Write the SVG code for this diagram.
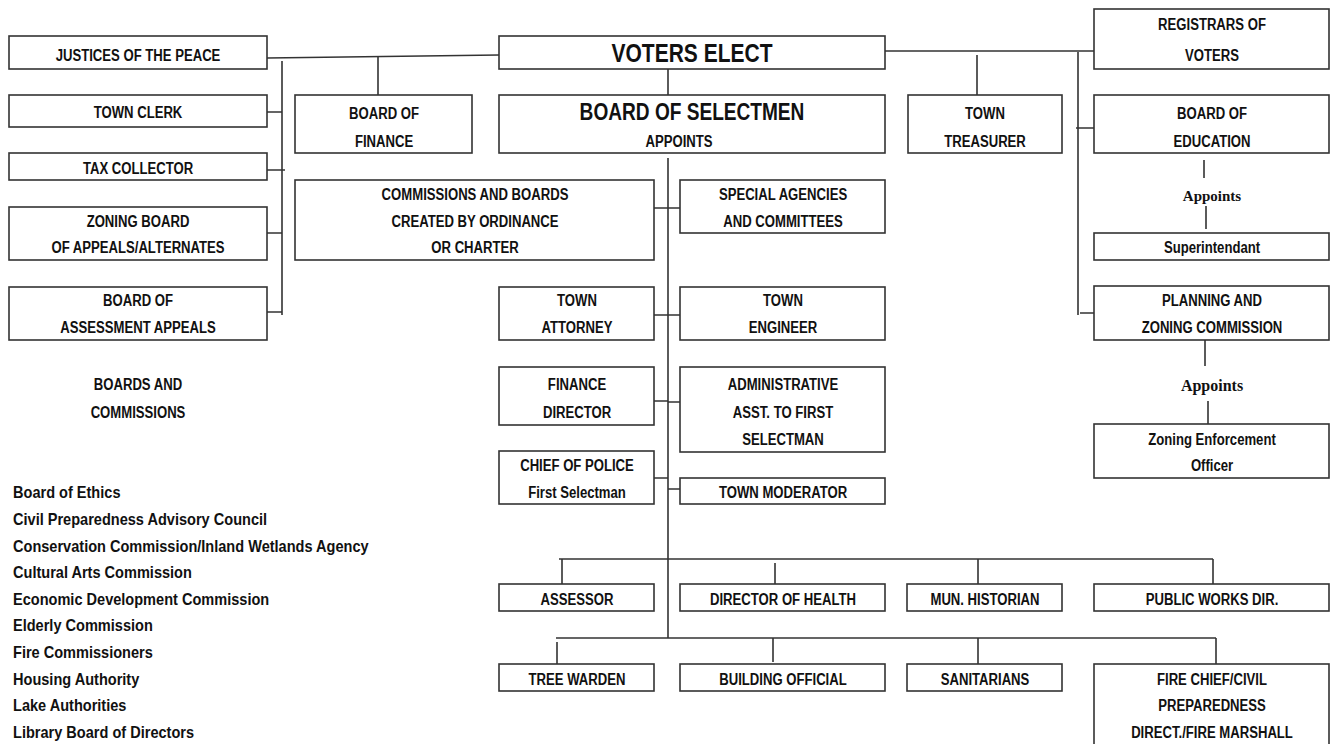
<svg xmlns="http://www.w3.org/2000/svg" width="1330" height="744" viewBox="0 0 1330 744">
<style>
.bx{fill:#fff;stroke:#333;stroke-width:1.6}
.t{font-family:"Liberation Sans Narrow","Arial Narrow","Liberation Sans",sans-serif;font-weight:bold;font-size:16px;fill:#111;text-anchor:middle;transform-box:fill-box;transform-origin:center;transform:scaleX(0.82)}
.big{font-size:25px;transform:scaleX(0.84)}
.sel{font-size:23px;transform:scaleX(0.83)}
.l{text-anchor:start;font-size:16px;transform-origin:left center;transform:scaleX(0.91)}
.s{font-family:"Liberation Serif","Times New Roman",serif;font-weight:bold;fill:#111;text-anchor:middle}
.c{stroke:#333;stroke-width:1.6;fill:none}
</style>
<rect width="1330" height="744" fill="#fff"/>
<g id="connectors" class="c">
<path d="M267 58 L499 55"/>
<path d="M282 61 V315 M267 112 H282 M267 170 H285 M267 233 H282 M267 312 H282"/>
<path d="M378 57 V95"/>
<path d="M668 69 V95"/>
<path d="M885 51 H1094 M977 55 V95 M1078 52 V315 M1076 128 H1094 M1080 313 H1094"/>
<path d="M1204 160 V178 M1206 206 V229"/>
<path d="M1205 340 V366 M1208 401 V424"/>
<path d="M668 158 V638"/>
<path d="M654 208 H680 M654 315 H680 M654 401 H668 M668 402 H680 M654 478 H668 M668 489 H680"/>
<path d="M559 559 H1213 M562 559 V584 M775 563 V584 M978 559 V584 M1213 559 V584"/>
<path d="M556 638 H1216 M557 642 V664 M773 638 V662 M978 638 V664 M1216 638 V664"/>
</g>
<g id="justices"><rect class="bx" x="9" y="36" width="258" height="33"/><text class="t" x="138" y="61">JUSTICES OF THE PEACE</text></g>
<g id="town-clerk"><rect class="bx" x="9" y="95" width="258" height="32"/><text class="t" x="138" y="118">TOWN CLERK</text></g>
<g id="tax-collector"><rect class="bx" x="9" y="153" width="258" height="27"/><text class="t" x="138" y="174">TAX COLLECTOR</text></g>
<g id="zoning-board"><rect class="bx" x="9" y="207" width="258" height="53"/><text class="t" x="138" y="227">ZONING BOARD</text><text class="t" x="138" y="253">OF APPEALS/ALTERNATES</text></g>
<g id="assessment-appeals"><rect class="bx" x="9" y="287" width="258" height="53"/><text class="t" x="138" y="306">BOARD OF</text><text class="t" x="138" y="333">ASSESSMENT APPEALS</text></g>
<g id="boards-commissions"><text class="t" x="138" y="390">BOARDS AND</text><text class="t" x="138" y="418">COMMISSIONS</text>
<text class="t l" x="13" y="498">Board of Ethics</text>
<text class="t l" x="13" y="525">Civil Preparedness Advisory Council</text>
<text class="t l" x="13" y="552">Conservation Commission/Inland Wetlands Agency</text>
<text class="t l" x="13" y="578">Cultural Arts Commission</text>
<text class="t l" x="13" y="605">Economic Development Commission</text>
<text class="t l" x="13" y="631">Elderly Commission</text>
<text class="t l" x="13" y="658">Fire Commissioners</text>
<text class="t l" x="13" y="685">Housing Authority</text>
<text class="t l" x="13" y="711">Lake Authorities</text>
<text class="t l" x="13" y="738">Library Board of Directors</text></g>
<g id="board-finance"><rect class="bx" x="295" y="95" width="177" height="58"/><text class="t" x="384" y="119">BOARD OF</text><text class="t" x="384" y="147">FINANCE</text></g>
<g id="voters-elect"><rect class="bx" x="499" y="36" width="386" height="33"/><text class="t big" x="692" y="62">VOTERS ELECT</text></g>
<g id="selectmen"><rect class="bx" x="499" y="95" width="386" height="58"/><text class="t sel" x="692" y="120">BOARD OF SELECTMEN</text><text class="t" x="679" y="147">APPOINTS</text></g>
<g id="treasurer"><rect class="bx" x="908" y="95" width="154" height="58"/><text class="t" x="985" y="119">TOWN</text><text class="t" x="985" y="147">TREASURER</text></g>
<g id="registrars"><rect class="bx" x="1094" y="9" width="235" height="60"/><text class="t" x="1212" y="30">REGISTRARS OF</text><text class="t" x="1212" y="61">VOTERS</text></g>
<g id="education"><rect class="bx" x="1094" y="95" width="235" height="58"/><text class="t" x="1212" y="119">BOARD OF</text><text class="t" x="1212" y="147">EDUCATION</text></g>
<g id="appoints1"><text class="s" style="font-size:15px" x="1212" y="201">Appoints</text></g>
<g id="superintendant"><rect class="bx" x="1094" y="233" width="235" height="27"/><text class="t" x="1212" y="253">Superintendant</text></g>
<g id="planning"><rect class="bx" x="1094" y="286" width="235" height="54"/><text class="t" x="1212" y="306">PLANNING AND</text><text class="t" x="1212" y="333">ZONING COMMISSION</text></g>
<g id="appoints2"><text class="s" style="font-size:16px" x="1212" y="391">Appoints</text></g>
<g id="zeo"><rect class="bx" x="1094" y="424" width="235" height="54"/><text class="t" x="1212" y="445">Zoning Enforcement</text><text class="t" x="1212" y="471">Officer</text></g>
<g id="commissions"><rect class="bx" x="295" y="180" width="359" height="80"/><text class="t" x="475" y="200">COMMISSIONS AND BOARDS</text><text class="t" x="475" y="227">CREATED BY ORDINANCE</text><text class="t" x="475" y="253">OR CHARTER</text></g>
<g id="special"><rect class="bx" x="680" y="180" width="205" height="53"/><text class="t" x="783" y="200">SPECIAL AGENCIES</text><text class="t" x="783" y="227">AND COMMITTEES</text></g>
<g id="attorney"><rect class="bx" x="499" y="287" width="155" height="53"/><text class="t" x="577" y="306">TOWN</text><text class="t" x="577" y="333">ATTORNEY</text></g>
<g id="engineer"><rect class="bx" x="680" y="287" width="205" height="53"/><text class="t" x="783" y="306">TOWN</text><text class="t" x="783" y="333">ENGINEER</text></g>
<g id="finance-director"><rect class="bx" x="499" y="367" width="155" height="58"/><text class="t" x="577" y="390">FINANCE</text><text class="t" x="577" y="418">DIRECTOR</text></g>
<g id="admin-asst"><rect class="bx" x="680" y="367" width="205" height="85"/><text class="t" x="783" y="390">ADMINISTRATIVE</text><text class="t" x="783" y="418">ASST. TO  FIRST</text><text class="t" x="783" y="445">SELECTMAN</text></g>
<g id="police"><rect class="bx" x="499" y="451" width="155" height="53"/><text class="t" x="577" y="471">CHIEF OF POLICE</text><text class="t" x="577" y="498">First Selectman</text></g>
<g id="moderator"><rect class="bx" x="680" y="478" width="205" height="26"/><text class="t" x="783" y="498">TOWN MODERATOR</text></g>
<g id="assessor"><rect class="bx" x="499" y="584" width="155" height="27"/><text class="t" x="577" y="605">ASSESSOR</text></g>
<g id="health"><rect class="bx" x="680" y="584" width="205" height="27"/><text class="t" x="783" y="605">DIRECTOR OF HEALTH</text></g>
<g id="historian"><rect class="bx" x="907" y="584" width="155" height="27"/><text class="t" x="985" y="605">MUN. HISTORIAN</text></g>
<g id="public-works"><rect class="bx" x="1094" y="584" width="235" height="27"/><text class="t" x="1212" y="605">PUBLIC WORKS DIR.</text></g>
<g id="tree-warden"><rect class="bx" x="499" y="664" width="155" height="27"/><text class="t" x="577" y="685">TREE WARDEN</text></g>
<g id="building"><rect class="bx" x="680" y="664" width="205" height="27"/><text class="t" x="783" y="685">BUILDING OFFICIAL</text></g>
<g id="sanitarians"><rect class="bx" x="907" y="664" width="155" height="27"/><text class="t" x="985" y="685">SANITARIANS</text></g>
<g id="fire-chief"><rect class="bx" x="1094" y="664" width="235" height="82"/><text class="t" x="1212" y="685">FIRE CHIEF/CIVIL</text><text class="t" x="1212" y="711">PREPAREDNESS</text><text class="t" x="1212" y="738">DIRECT./FIRE MARSHALL</text></g>
</svg>
